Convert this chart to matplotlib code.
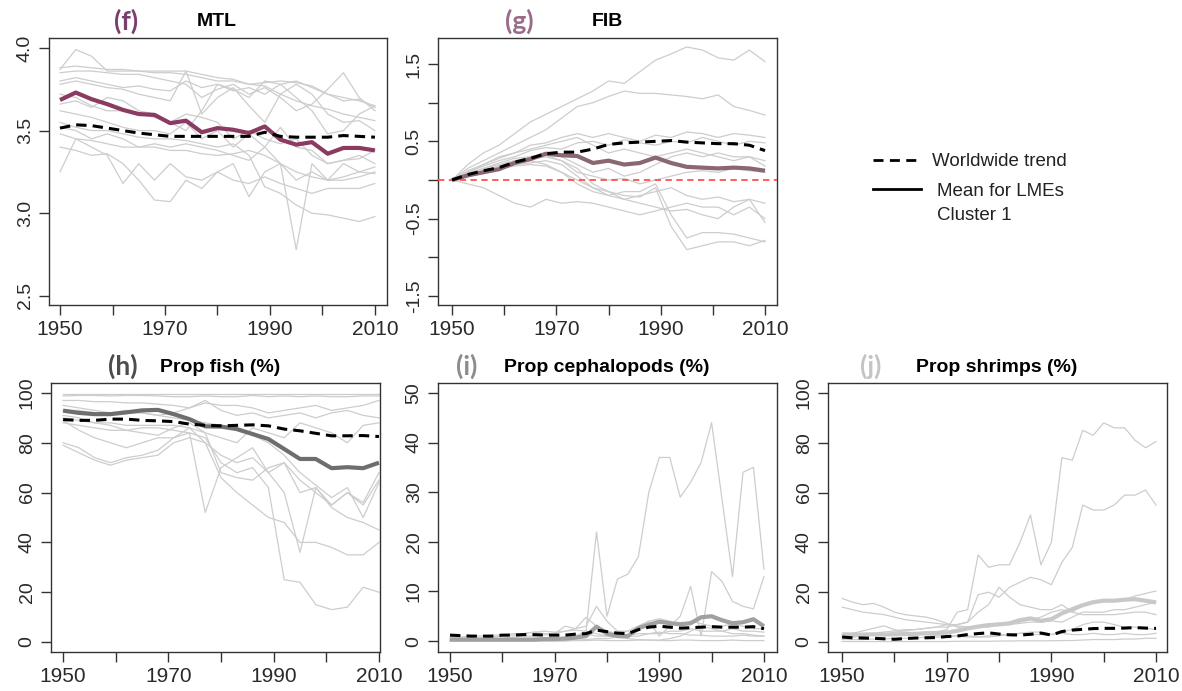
import matplotlib.pyplot as plt
from matplotlib.lines import Line2D

plt.rcParams['font.family'] = ['Liberation Sans', 'DejaVu Sans']

# sample years (3-yr steps for MTL/FIB/fish, 2-yr steps for cephalopods/shrimps)
yrs_a = [1950, 1953, 1956, 1959, 1962, 1965, 1968, 1971, 1974, 1977, 1980,
         1983, 1986, 1989, 1992, 1995, 1998, 2001, 2004, 2007, 2010]
yrs_b = [1950, 1952, 1954, 1956, 1958, 1960, 1962, 1964, 1966, 1968, 1970,
         1972, 1974, 1976, 1978, 1980, 1982, 1984, 1986, 1988, 1990, 1992,
         1994, 1996, 1998, 2000, 2002, 2004, 2006, 2008, 2010]

# (f) MTL
mtl_mean = [3.685, 3.73, 3.69, 3.66, 3.625, 3.60, 3.595, 3.545, 3.56, 3.49, 3.515,
            3.505, 3.485, 3.525, 3.445, 3.415, 3.43, 3.36, 3.395, 3.395, 3.38]
mtl_world = [3.515, 3.535, 3.53, 3.515, 3.50, 3.485, 3.475, 3.465, 3.465, 3.465, 3.465,
             3.465, 3.465, 3.49, 3.465, 3.46, 3.46, 3.46, 3.47, 3.465, 3.46]
mtl_lmes = [
    [3.87, 3.99, 3.95, 3.86, 3.86, 3.86, 3.85, 3.85, 3.84, 3.82, 3.80, 3.80, 3.78, 3.77, 3.72, 3.68, 3.65, 3.63, 3.60, 3.58, 3.56],
    [3.88, 3.89, 3.88, 3.87, 3.87, 3.86, 3.86, 3.86, 3.86, 3.84, 3.82, 3.81, 3.78, 3.79, 3.80, 3.79, 3.77, 3.72, 3.68, 3.69, 3.64],
    [3.85, 3.86, 3.86, 3.85, 3.84, 3.84, 3.82, 3.80, 3.78, 3.70, 3.75, 3.78, 3.72, 3.76, 3.70, 3.62, 3.66, 3.75, 3.85, 3.70, 3.62],
    [3.78, 3.80, 3.78, 3.76, 3.75, 3.72, 3.70, 3.68, 3.86, 3.60, 3.70, 3.76, 3.65, 3.55, 3.72, 3.78, 3.72, 3.60, 3.55, 3.56, 3.50],
    [3.72, 3.70, 3.65, 3.62, 3.62, 3.60, 3.58, 3.55, 3.50, 3.62, 3.78, 3.75, 3.70, 3.80, 3.78, 3.70, 3.62, 3.48, 3.50, 3.60, 3.65],
    [3.62, 3.60, 3.58, 3.55, 3.52, 3.50, 3.50, 3.48, 3.55, 3.45, 3.50, 3.40, 3.48, 3.40, 3.52, 3.40, 3.38, 3.30, 3.32, 3.35, 3.30],
    [3.52, 3.50, 3.45, 3.48, 3.45, 3.40, 3.42, 3.40, 3.42, 3.40, 3.38, 3.35, 3.32, 3.40, 3.30, 2.78, 3.30, 3.20, 3.22, 3.25, 3.28],
    [3.48, 3.45, 3.44, 3.42, 3.40, 3.40, 3.40, 3.38, 3.38, 3.36, 3.35, 3.36, 3.38, 3.35, 3.30, 3.25, 3.22, 3.20, 3.20, 3.22, 3.25],
    [3.25, 3.45, 3.40, 3.35, 3.18, 3.30, 3.20, 3.30, 3.22, 3.20, 3.25, 3.20, 3.18, 3.22, 3.18, 3.15, 3.12, 3.15, 3.15, 3.15, 3.18],
    [3.40, 3.38, 3.35, 3.36, 3.30, 3.20, 3.08, 3.07, 3.20, 3.15, 3.25, 3.30, 3.10, 3.25, 3.30, 3.20, 3.25, 3.20, 3.30, 3.25, 3.24],
    [3.55, 3.52, 3.50, 3.50, 3.48, 3.46, 3.45, 3.45, 3.44, 3.42, 3.40, 3.42, 3.35, 3.16, 3.12, 3.05, 3.00, 2.99, 2.97, 2.95, 2.98],
    [3.66, 3.68, 3.64, 3.70, 3.68, 3.62, 3.60, 3.55, 3.60, 3.58, 3.55, 3.45, 3.50, 3.45, 3.42, 3.45, 3.35, 3.30, 3.32, 3.33, 3.38],
    [3.80, 3.82, 3.80, 3.78, 3.76, 3.77, 3.75, 3.74, 3.80, 3.76, 3.78, 3.74, 3.76, 3.72, 3.78, 3.80, 3.76, 3.72, 3.70, 3.68, 3.65],
]

# (g) FIB
fib_mean = [0.0, 0.06, 0.10, 0.14, 0.22, 0.27, 0.34, 0.32, 0.31, 0.22, 0.25,
            0.20, 0.22, 0.29, 0.22, 0.17, 0.16, 0.15, 0.16, 0.15, 0.12]
fib_world = [0.0, 0.07, 0.12, 0.16, 0.23, 0.28, 0.34, 0.36, 0.36, 0.40, 0.46,
             0.48, 0.49, 0.50, 0.51, 0.49, 0.48, 0.47, 0.47, 0.45, 0.38]
fib_lmes = [
    [0, 0.20, 0.35, 0.45, 0.60, 0.75, 0.85, 0.95, 1.05, 1.15, 1.28, 1.25, 1.40, 1.55, 1.63, 1.72, 1.68, 1.58, 1.55, 1.68, 1.53],
    [0, 0.15, 0.25, 0.35, 0.45, 0.55, 0.65, 0.80, 0.95, 1.00, 1.08, 1.15, 1.12, 1.12, 1.10, 1.08, 1.05, 1.10, 0.95, 0.90, 0.84],
    [0, 0.12, 0.20, 0.30, 0.35, 0.45, 0.48, 0.55, 0.60, 0.55, 0.60, 0.55, 0.50, 0.58, 0.55, 0.62, 0.60, 0.55, 0.60, 0.58, 0.55],
    [0, 0.10, 0.18, 0.25, 0.30, 0.38, 0.42, 0.40, 0.48, 0.50, 0.45, 0.52, 0.48, 0.45, 0.50, 0.48, 0.55, 0.50, 0.45, 0.50, 0.48],
    [0, 0.08, 0.15, 0.20, 0.25, 0.30, 0.35, 0.30, 0.20, 0.10, 0.15, 0.05, 0.10, 0.20, 0.30, 0.35, 0.30, 0.35, 0.30, 0.30, 0.25],
    [0, 0.05, 0.10, 0.15, 0.20, 0.22, 0.25, 0.20, 0.05, -0.10, -0.20, -0.25, -0.20, -0.15, -0.10, -0.20, -0.25, -0.22, -0.28, -0.25, -0.30],
    [0, 0.05, 0.12, 0.18, 0.25, 0.28, 0.30, 0.25, 0.15, -0.05, -0.15, -0.25, -0.30, -0.35, -0.40, -0.38, -0.45, -0.50, -0.35, -0.25, -0.55],
    [0, 0.08, 0.12, 0.18, 0.22, 0.25, 0.20, 0.10, 0.0, -0.10, -0.15, -0.20, -0.22, -0.10, -0.60, -0.90, -0.85, -0.80, -0.80, -0.85, -0.78],
    [0, 0.04, 0.10, 0.15, 0.18, 0.20, 0.18, 0.10, -0.05, -0.15, -0.20, -0.15, -0.15, -0.05, -0.45, -0.75, -0.68, -0.68, -0.70, -0.75, -0.80],
    [0, -0.05, -0.10, -0.20, -0.30, -0.35, -0.25, -0.30, -0.28, -0.30, -0.35, -0.40, -0.45, -0.40, -0.35, -0.30, -0.35, -0.35, -0.45, -0.35, -0.50],
    [0, 0.08, 0.15, 0.22, 0.28, 0.30, 0.32, 0.25, 0.10, 0.05, 0.0, 0.02, -0.05, 0.0, 0.05, 0.10, 0.12, 0.10, 0.15, 0.12, 0.10],
    [0, 0.10, 0.20, 0.28, 0.35, 0.40, 0.45, 0.50, 0.55, 0.45, 0.35, 0.40, 0.35, 0.30, 0.35, 0.40, 0.35, 0.30, 0.25, 0.30, 0.18],
]

# (h) Prop fish (%)
fish_mean = [92.9, 92.0, 91.5, 91.5, 92.2, 93.0, 93.2, 91.5, 89.5, 86.6, 86.5,
             85.5, 83.5, 81.5, 77.5, 73.5, 73.5, 69.8, 70.2, 69.8, 72.0]
fish_world = [89.3, 89.0, 89.0, 89.5, 89.5, 89.0, 88.8, 88.5, 87.5, 87.0, 86.8,
              87.0, 87.2, 86.8, 85.5, 84.8, 83.8, 82.8, 82.8, 82.9, 82.5]
fish_lmes = [
    [99.5, 99.5, 99.5, 99.5, 99.5, 99.5, 99.5, 99.5, 99.5, 99.5, 99.5, 99.5, 99.5, 99.5, 99.5, 99.5, 99.5, 99.5, 99.5, 99.5, 99.5],
    [98.8, 99, 99, 98.8, 99, 99, 98.8, 98.5, 98.5, 98.8, 98.5, 98.5, 99, 98.5, 98.8, 98.5, 98.8, 98.5, 98.5, 98.8, 98.8],
    [97, 97, 96.5, 96.5, 96, 96, 95.5, 95, 94, 96, 95, 95, 94, 92, 93, 94, 95, 93, 94, 95, 97],
    [95, 94, 93, 92, 93, 92, 91, 92, 94, 97, 93, 91, 92, 90, 91, 92, 90, 92, 93, 91, 90],
    [91, 90, 88, 87, 85, 84, 83, 86, 88, 84, 82, 80, 86, 84, 82, 88, 86, 84, 80, 87, 88],
    [89, 85, 82, 80, 78, 80, 82, 82, 84, 52, 70, 74, 78, 68, 72, 65, 60, 55, 60, 55, 65],
    [80, 78, 74, 72, 74, 75, 77, 82, 86, 84, 68, 66, 65, 70, 72, 60, 62, 54, 50, 48, 45],
    [79, 76, 73, 71, 73, 74, 75, 80, 82, 80, 66, 60, 55, 50, 48, 40, 40, 38, 35, 35, 40],
    [88, 87, 86, 85, 85, 86, 86, 85, 84, 82, 72, 68, 70, 62, 25, 24, 15, 13, 14, 22, 20],
    [90, 89, 88, 88, 87, 87, 87, 87, 86, 80, 75, 72, 74, 68, 60, 36, 62, 55, 60, 56, 68],
    [93, 93, 92, 92, 92, 92, 91, 90, 89, 88, 87, 85, 83, 80, 75, 68, 63, 58, 62, 50, 64],
]

# (i) Prop cephalopods (%)
ceph_mean = [0.3, 0.3, 0.3, 0.3, 0.3, 0.3, 0.3, 0.3, 0.3, 0.4, 0.4, 0.5, 0.7, 1.0, 2.9, 1.5,
             1.0, 1.0, 2.6, 3.3, 3.9, 3.6, 3.4, 3.6, 4.8, 5.0, 4.2, 3.6, 3.8, 4.4, 3.0]
ceph_world = [1.2, 1.1, 1.0, 1.0, 1.0, 1.2, 1.2, 1.3, 1.3, 1.2, 1.2, 1.2, 1.4, 1.5, 2.2, 1.9,
              1.6, 1.5, 2.3, 2.8, 3.0, 2.8, 2.6, 2.7, 2.8, 2.9, 2.8, 2.8, 2.8, 2.9, 2.5]
ceph_lmes = [
    [0, 0, 0, 0, 0, 0, 0, 0, 0, 0.2, 0.3, 0.5, 1, 2, 22, 5, 12.5, 13.5, 17, 30, 37, 37, 29, 32, 36, 44, 28.5, 13, 34, 35, 14.5],
    [0.5, 0.5, 0.5, 0.5, 0.5, 0.5, 0.8, 1, 1, 1.2, 1.5, 2, 2.5, 3, 7, 4, 2, 2, 3, 4, 1, 3, 5, 11, 1, 14, 12, 8, 7, 6.5, 13],
    [0.3, 0.3, 0.4, 0.5, 0.8, 1, 1.2, 1.5, 1.8, 1.5, 1.5, 3, 2.5, 4.8, 3, 2, 1.5, 2, 3, 4, 4.5, 4, 3, 4, 3.5, 3, 3, 3.5, 3, 2.5, 2.5],
    [0, 0, 0, 0, 0, 0, 0, 0, 0, 0, 0, 0, 0.2, 0.3, 0.5, 0.5, 0.8, 1, 1, 1.5, 1.5, 2, 2, 2.5, 2, 2, 2, 2.5, 2, 2, 1.8],
    [0.8, 0.8, 1, 1, 1.2, 1.2, 1.5, 1.5, 1.8, 2, 1.8, 2, 2.2, 2, 1.5, 1, 1, 1.2, 1.5, 1.5, 1.8, 1.5, 1.5, 1.2, 1.2, 1, 1, 1, 1.2, 1, 1],
    [0.1, 0.1, 0.1, 0.1, 0.1, 0.1, 0.1, 0.1, 0.1, 0.1, 0.1, 0.1, 0.1, 0.1, 0.2, 0.1, 0.1, 0.1, 0.2, 0.2, 0.1, 0.1, 0.2, 0.2, 0.1, 0.1, 0.1, 0.2, 0.1, 0.1, 0.1],
    [0.2, 0.2, 0.3, 0.3, 0.3, 0.4, 0.4, 0.5, 0.5, 0.6, 0.6, 0.8, 1, 1.5, 1, 1, 0.8, 0.5, 0.3, 0.2, 0.2, 0.5, 1, 2, 3, 2.5, 2, 1.5, 1.5, 1.2, 1],
]

# (j) Prop shrimps (%)
shr_mean = [3.1, 3.0, 3.0, 3.1, 3.0, 3.1, 3.2, 3.3, 3.5, 3.6, 3.8, 4.5, 5.5, 6.2, 6.8, 7.1,
            7.5, 8.8, 9.5, 8.5, 9.2, 11.5, 13.2, 14.8, 16.0, 16.6, 16.6, 17.0, 17.2, 16.6, 15.9]
shr_world = [2.0, 1.7, 1.6, 1.5, 1.3, 1.1, 1.4, 1.6, 1.7, 1.8, 2.2, 2.4, 3.0, 3.4, 3.7, 3.2,
             2.9, 2.8, 3.1, 3.6, 2.8, 4.2, 4.8, 5.1, 5.4, 5.5, 5.5, 5.6, 5.8, 5.6, 5.5]
shr_lmes = [
    [2, 2, 2.5, 3, 3, 3, 3, 3.5, 4, 4, 5, 12, 13, 35, 30, 31, 31, 40, 51, 31, 40, 74, 73, 85, 83, 88, 86, 86, 81, 78, 80.5],
    [3, 3, 3, 3.5, 4, 4.5, 5, 5, 5.5, 6, 6, 7, 8, 19, 20, 18, 22, 24, 26, 25, 23, 32, 38, 55, 53, 53, 55, 59, 59, 61, 55],
    [2, 2, 2.5, 3, 3, 4, 4.5, 5, 5.5, 6, 7, 7, 8, 12, 15, 22, 18, 15, 14, 13, 13, 15, 12, 11, 11, 11, 11, 11.5, 12, 12, 11],
    [17.5, 16, 15, 15.5, 14, 12, 11, 10.5, 10, 9, 7.5, 6, 5, 6, 6, 7, 7.5, 8, 9, 10, 12, 13, 12, 15, 16, 17, 17, 17, 18.5, 19.5, 20.5],
    [14, 13, 12, 11.5, 11, 10, 9, 8.5, 8, 7.5, 7, 6.5, 6, 6, 6.5, 7, 7, 7.5, 8, 8, 8.5, 8, 10, 12, 12, 12, 13, 13, 14, 15, 16],
    [3, 3.5, 4.5, 5.5, 6.5, 5, 4, 3.5, 3, 2.5, 2.5, 2.5, 2, 2, 2.5, 3, 3, 3.5, 4, 4, 3, 4, 5, 7, 8, 8, 7, 6, 6, 5.5, 5],
    [1, 1, 1, 1.2, 1.2, 1.5, 1.5, 1.5, 2, 2, 2, 2.5, 2.5, 2, 2, 2.5, 3, 3.5, 3, 3, 3, 3.5, 3, 3, 3.5, 3, 3, 3.5, 3, 3, 3.5],
    [0.2, 0.2, 0.2, 0.2, 0.2, 0.2, 0.2, 0.2, 0.2, 0.2, 0.2, 0.3, 0.3, 0.3, 0.3, 0.4, 0.4, 0.5, 0.5, 0.5, 0.5, 0.6, 0.6, 0.8, 1, 1, 1, 1.2, 1.2, 1.5, 1.5],
]

W, H = 1182, 691
fig = plt.figure(figsize=(W / 100, H / 100), dpi=100)

GREY = '#cdcdcd'
xt = [1950, 1960, 1970, 1980, 1990, 2000, 2010]
xtl = ['1950', '', '1970', '', '1990', '', '2010']


def make_ax(l, t, r, b):
    return fig.add_axes([l / W, 1 - b / H, (r - l) / W, (b - t) / H])


def panel(ax, yrs, lmes, world, mean, mcolor, xlim, ylim, yticks, ylabels):
    for s in lmes:
        ax.plot(yrs, s, color=GREY, lw=0.9, zorder=2)
    ax.plot(yrs, mean, color=mcolor, lw=3.0, solid_capstyle='butt', zorder=3)
    ax.plot(yrs, world, color='black', lw=2.2, ls=(0, (3.4, 2.0)), zorder=4)
    ax.set_xlim(xlim)
    ax.set_ylim(ylim)
    ax.set_xticks(xt)
    ax.set_xticklabels(xtl, fontsize=15, color='#2a2a2a')
    ax.set_yticks(yticks)
    ax.set_yticklabels(ylabels, rotation=90, va='center', fontsize=14, color='#2a2a2a')
    ax.tick_params(axis='both', direction='out', length=7, width=1.0, color='#333333')
    ax.tick_params(axis='x', pad=4)
    ax.tick_params(axis='y', pad=4)
    for sp in ax.spines.values():
        sp.set_linewidth(1.0)
        sp.set_color('#333333')


ax_f = make_ax(49, 38, 387, 305)
panel(ax_f, yrs_a, mtl_lmes, mtl_world, mtl_mean, '#8b3a62',
      (1947.9, 2012.3), (2.445, 4.06), [2.5, 3.0, 3.5, 4.0], ['2.5', '3.0', '3.5', '4.0'])

ax_g = make_ax(438, 38, 777, 305)
ax_g.axhline(0, color='#ff5050', lw=1.3, ls=(0, (3.5, 2.5)), zorder=3)
panel(ax_g, yrs_a, fib_lmes, fib_world, fib_mean, '#8a6870',
      (1947.3, 2012.3), (-1.616, 1.836),
      [-1.5, -1.0, -0.5, 0.0, 0.5, 1.0, 1.5], ['-1.5', '', '-0.5', '', '0.5', '', '1.5'])

ax_h = make_ax(51, 383, 380, 652)
panel(ax_h, yrs_a, fish_lmes, fish_world, fish_mean, '#6e6e6e',
      (1947.7, 2010.2), (-4, 104), [0, 20, 40, 60, 80, 100],
      ['0', '20', '40', '60', '80', '100'])

ax_i = make_ax(438, 383, 777, 652)
panel(ax_i, yrs_b, ceph_lmes, ceph_world, ceph_mean, '#a0a0a0',
      (1947.7, 2012.5), (-2.2, 52), [0, 10, 20, 30, 40, 50],
      ['0', '10', '20', '30', '40', '50'])

ax_j = make_ax(828, 383, 1167, 652)
panel(ax_j, yrs_b, shr_lmes, shr_world, shr_mean, '#c8c8c8',
      (1947.3, 2012.1), (-4, 104), [0, 20, 40, 60, 80, 100],
      ['0', '20', '40', '60', '80', '100'])


def ftext(x, y, s, **kw):
    fig.text(x / W, 1 - y / H, s, ha='center', va='center', **kw)


# panel titles
ftext(217, 22, 'MTL', fontsize=14, fontweight='bold')
ftext(607, 22, 'FIB', fontsize=14, fontweight='bold')
ftext(220, 368, 'Prop fish (%)', fontsize=14, fontweight='bold')
ftext(607, 368, 'Prop cephalopods (%)', fontsize=14, fontweight='bold')
ftext(997, 368, 'Prop shrimps (%)', fontsize=14, fontweight='bold')

# panel letters
lab_kw = dict(fontsize=19, fontweight='bold', family=['Lato', 'DejaVu Sans'])
ftext(126, 21, '(f)', color='#7b3f6e', **lab_kw)
ftext(519, 21, '(g)', color='#9b6b8b', **lab_kw)
ftext(123, 366, '(h)', color='#4d4d4d', **lab_kw)
ftext(467, 366, '(i)', color='#8c8c8c', **lab_kw)
ftext(871, 366, '(j)', color='#c4c4c4', **lab_kw)

# legend
fig.add_artist(Line2D([873 / W, 921 / W], [1 - 160 / H, 1 - 160 / H],
                      color='black', lw=2.0, ls=(0, (3.6, 2.3))))
fig.add_artist(Line2D([873 / W, 921 / W], [1 - 189 / H, 1 - 189 / H],
                      color='black', lw=2.0))
fig.text(932 / W, 1 - 161 / H, 'Worldwide trend', fontsize=13.5, va='center', color='#222222')
fig.text(937 / W, 1 - 191 / H, 'Mean for LMEs', fontsize=13.5, va='center', color='#222222')
fig.text(937 / W, 1 - 216 / H, 'Cluster 1', fontsize=13.5, va='center', color='#222222')

fig.savefig('out.png', dpi=100)
